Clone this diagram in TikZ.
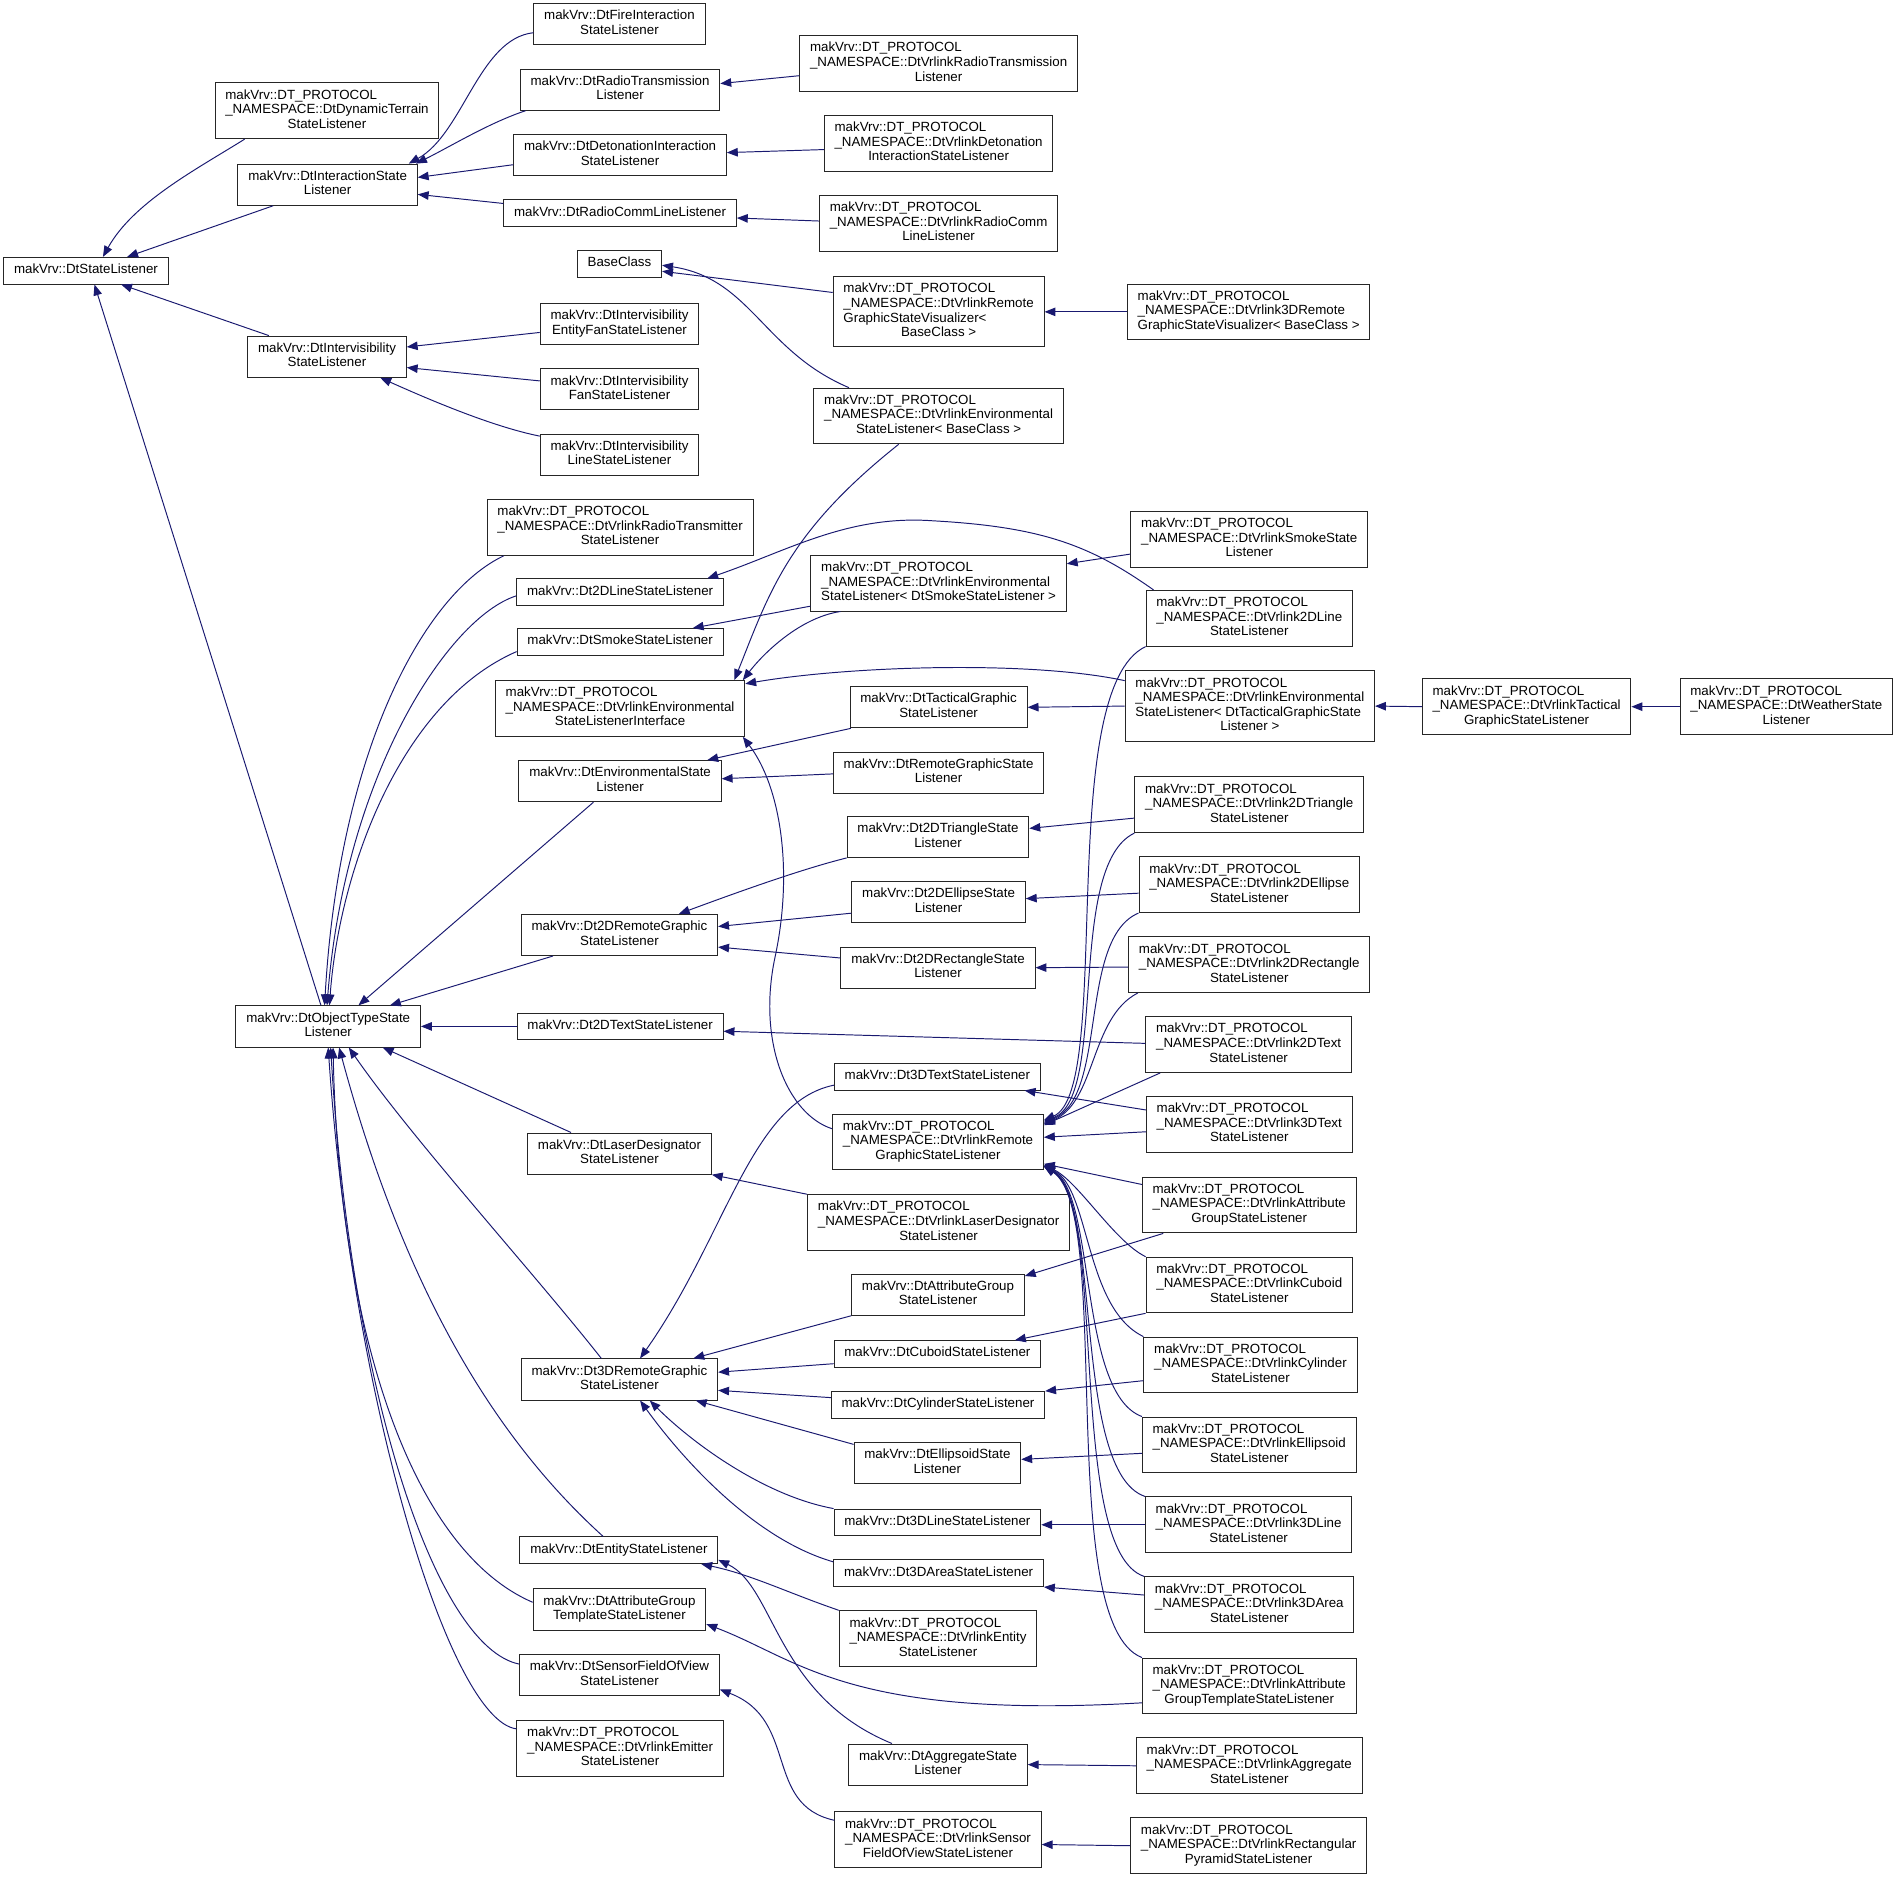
\documentclass[tikz,border=0pt]{standalone}
\usepackage{fontspec}
\setmainfont{Liberation Sans}
\usetikzlibrary{arrows.meta}
\definecolor{edgeblue}{RGB}{25,25,112}
\newcommand{\lbl}[2]{\begin{tabular}{@{}l@{}}#1\\\multicolumn{1}{@{}c@{}}{#2}\end{tabular}}
\newcommand{\lbo}[1]{\begin{tabular}{@{}c@{}}#1\end{tabular}}
\newcommand{\proto}[2]{\lbl{makVrv::DT\_PROTOCOL\\\_NAMESPACE::#1}{#2}}
\begin{document}
\begin{tikzpicture}[x=1pt,y=-1pt,
        cls/.style={draw=black!85,line width=.8pt,fill=white,inner xsep=8.5pt,inner ysep=5pt,
            font=\fontsize{11}{12}\selectfont},
        inh/.style={draw=edgeblue,line width=.8pt,{Triangle[length=9pt,width=7pt]}-}]
    \fill[white] (0,0) rectangle (1568,1552);
    \useasboundingbox (0,0) rectangle (1568,1552);
    % first columns
    \node[cls] (stl) at (71,223.5) {\lbo{makVrv::DtStateListener}};
    \node[cls] (dynt) at (270,91.5) {\proto{DtDynamicTerrain}{StateListener}};
    \node[cls] (intst) at (270.5,152.5) {\lbl{makVrv::DtInteractionState}{Listener}};
    \node[cls] (intvis) at (270,294.5) {\lbl{makVrv::DtIntervisibility}{StateListener}};
    \node[cls] (objt) at (271,847.5) {\lbl{makVrv::DtObjectTypeState}{Listener}};
    % second column
    \node[cls] (fire) at (511.5,20) {\lbl{makVrv::DtFireInteraction}{StateListener}};
    \node[cls] (radtx) at (512,74) {\lbl{makVrv::DtRadioTransmission}{Listener}};
    \node[cls] (deton) at (512,128) {\lbl{makVrv::DtDetonationInteraction}{StateListener}};
    \node[cls] (radcl) at (512,176) {\lbo{makVrv::DtRadioCommLineListener}};
    \node[cls] (base) at (511.5,218) {\lbo{BaseClass}};
    \node[cls] (ivefan) at (511.5,267.5) {\lbl{makVrv::DtIntervisibility}{EntityFanStateListener}};
    \node[cls] (ivfan) at (511.5,321.5) {\lbl{makVrv::DtIntervisibility}{FanStateListener}};
    \node[cls] (ivline) at (511.5,375.5) {\lbl{makVrv::DtIntervisibility}{LineStateListener}};
    \node[cls] (vradtm) at (512,435.5) {\proto{DtVrlinkRadioTransmitter}{StateListener}};
    \node[cls] (line2d) at (512,489) {\lbo{makVrv::Dt2DLineStateListener}};
    \node[cls] (smoke) at (512,530) {\lbo{makVrv::DtSmokeStateListener}};
    \node[cls] (venvif) at (512,585) {\proto{DtVrlinkEnvironmental}{StateListenerInterface}};
    \node[cls] (envst) at (512,645) {\lbl{makVrv::DtEnvironmentalState}{Listener}};
    \node[cls] (rem2d) at (511.5,772) {\lbl{makVrv::Dt2DRemoteGraphic}{StateListener}};
    \node[cls] (text2d) at (512,847.5) {\lbo{makVrv::Dt2DTextStateListener}};
    \node[cls] (laser) at (511.5,952.5) {\lbl{makVrv::DtLaserDesignator}{StateListener}};
    \node[cls] (rem3d) at (511.5,1139) {\lbl{makVrv::Dt3DRemoteGraphic}{StateListener}};
    \node[cls] (entity) at (511,1280) {\lbo{makVrv::DtEntityStateListener}};
    \node[cls] (attrgt) at (511.5,1329) {\lbl{makVrv::DtAttributeGroup}{TemplateStateListener}};
    \node[cls] (sensor) at (511.5,1383) {\lbl{makVrv::DtSensorFieldOfView}{StateListener}};
    \node[cls] (vemit) at (512,1443.5) {\proto{DtVrlinkEmitter}{StateListener}};
    % third column
    \node[cls] (vradtx) at (775,52.5) {\proto{DtVrlinkRadioTransmission}{Listener}};
    \node[cls] (vdeton) at (775,118.5) {\proto{DtVrlinkDetonation}{InteractionStateListener}};
    \node[cls] (vradcl) at (775,184.5) {\proto{DtVrlinkRadioComm}{LineListener}};
    \node[cls] (vgsvis) at (775,257.5) {\proto{DtVrlinkRemote\\GraphicStateVisualizer<}{BaseClass >}};
    \node[cls] (venvbase) at (775,343.5) {\proto{DtVrlinkEnvironmental}{StateListener< BaseClass >}};
    \node[cls] (venvsmoke) at (775,481.5) {\proto{DtVrlinkEnvironmental}{StateListener< DtSmokeStateListener >}};
    \node[cls] (tactg) at (775,584) {\lbl{makVrv::DtTacticalGraphic}{StateListener}};
    \node[cls] (remgs) at (775,638) {\lbl{makVrv::DtRemoteGraphicState}{Listener}};
    \node[cls] (tri2d) at (774.5,691) {\lbl{makVrv::Dt2DTriangleState}{Listener}};
    \node[cls] (ell2d) at (775,745) {\lbl{makVrv::Dt2DEllipseState}{Listener}};
    \node[cls] (rect2d) at (774.5,799) {\lbl{makVrv::Dt2DRectangleState}{Listener}};
    \node[cls] (text3d) at (774,889) {\lbo{makVrv::Dt3DTextStateListener}};
    \node[cls] (vremgs) at (774.5,943) {\proto{DtVrlinkRemote}{GraphicStateListener}};
    \node[cls] (vlaser) at (775,1009.5) {\proto{DtVrlinkLaserDesignator}{StateListener}};
    \node[cls] (attrg) at (774.5,1069) {\lbl{makVrv::DtAttributeGroup}{StateListener}};
    \node[cls] (cuboid) at (774,1118) {\lbo{makVrv::DtCuboidStateListener}};
    \node[cls] (cyl) at (774.5,1160) {\lbo{makVrv::DtCylinderStateListener}};
    \node[cls] (ellips) at (774,1208) {\lbl{makVrv::DtEllipsoidState}{Listener}};
    \node[cls] (line3d) at (774,1257) {\lbo{makVrv::Dt3DLineStateListener}};
    \node[cls] (area3d) at (775,1299) {\lbo{makVrv::Dt3DAreaStateListener}};
    \node[cls] (ventity) at (774.5,1353) {\proto{DtVrlinkEntity}{StateListener}};
    \node[cls] (aggr) at (774.5,1457) {\lbl{makVrv::DtAggregateState}{Listener}};
    \node[cls] (vsensor) at (774.5,1519) {\proto{DtVrlinkSensor}{FieldOfViewStateListener}};
    % fourth column and beyond
    \node[cls] (v3dgsvis) at (1031,257.5) {\proto{DtVrlink3DRemote}{GraphicStateVisualizer< BaseClass >}};
    \node[cls] (vsmoke) at (1031.5,445.5) {\proto{DtVrlinkSmokeState}{Listener}};
    \node[cls] (v2dline) at (1031.5,510.5) {\proto{DtVrlink2DLine}{StateListener}};
    \node[cls] (venvtact) at (1032,583) {\proto{DtVrlinkEnvironmental\\StateListener< DtTacticalGraphicState}{Listener >}};
    \node[cls] (vtactg) at (1260.5,583.5) {\proto{DtVrlinkTactical}{GraphicStateListener}};
    \node[cls] (vweather) at (1475,583.5) {\proto{DtWeatherState}{Listener}};
    \node[cls] (vtri2d) at (1031.5,664.5) {\proto{DtVrlink2DTriangle}{StateListener}};
    \node[cls] (vell2d) at (1031.5,730.5) {\proto{DtVrlink2DEllipse}{StateListener}};
    \node[cls] (vrect2d) at (1031.5,796.5) {\proto{DtVrlink2DRectangle}{StateListener}};
    \node[cls] (vtext2d) at (1031,862.5) {\proto{DtVrlink2DText}{StateListener}};
    \node[cls] (vtext3d) at (1031.5,928.5) {\proto{DtVrlink3DText}{StateListener}};
    \node[cls] (vattrg) at (1031.5,995) {\proto{DtVrlinkAttribute}{GroupStateListener}};
    \node[cls] (vcuboid) at (1031.5,1061) {\proto{DtVrlinkCuboid}{StateListener}};
    \node[cls] (vcyl) at (1032.5,1127) {\proto{DtVrlinkCylinder}{StateListener}};
    \node[cls] (vellips) at (1031.5,1193) {\proto{DtVrlinkEllipsoid}{StateListener}};
    \node[cls] (vline3d) at (1031,1259) {\proto{DtVrlink3DLine}{StateListener}};
    \node[cls] (varea3d) at (1031.5,1325) {\proto{DtVrlink3DArea}{StateListener}};
    \node[cls] (vattrgt) at (1031.5,1392) {\proto{DtVrlinkAttribute}{GroupTemplateStateListener}};
    \node[cls] (vaggr) at (1031.5,1458) {\proto{DtVrlinkAggregate}{StateListener}};
    \node[cls] (vrectpyr) at (1031,1524) {\proto{DtVrlinkRectangular}{PyramidStateListener}};
    % top part
    \draw[inh] ([xshift=14pt]stl.north) .. controls +(25,-45) and +(-40,25) .. ([xshift=-68pt]dynt.south);
    \draw[inh] ([xshift=34pt]stl.north) -- ([xshift=-45pt]intst.south);
    \draw[inh] ([xshift=29pt]stl.south) -- ([xshift=-48pt]intvis.north);
    \draw[inh] ([xshift=7pt]stl.south) -- ([xshift=-6pt]objt.north);
    \draw[inh] ([xshift=67pt]intst.north) .. controls +(45,-25) and +(-45,5) .. ([yshift=-7pt]fire.west);
    \draw[inh] ([xshift=73pt]intst.north) .. controls +(30,-15) and +(-30,10) .. ([xshift=-78pt]radtx.south);
    \draw[inh] ([yshift=6pt]intst.east) -- ([yshift=-8pt]deton.west);
    \draw[inh] ([yshift=-8pt]intst.east) -- ([yshift=8pt]radcl.west);
    \draw[inh] ([yshift=5pt]radtx.east) -- ([yshift=-10pt]vradtx.west);
    \draw[inh] ([yshift=2pt]deton.east) -- ([yshift=-5pt]vdeton.west);
    \draw[inh] ([yshift=-4pt]radcl.east) -- ([yshift=2pt]vradcl.west);
    \draw[inh] ([yshift=-6pt]base.east) -- ([yshift=16pt]vgsvis.west);
    \draw[inh] ([yshift=-1pt]base.east) .. controls (620,230) and (630,290) .. ([xshift=-74pt]venvbase.north);
    \draw[inh] (vgsvis.east) -- (v3dgsvis.west);
    \draw[inh] ([yshift=8pt]intvis.east) -- ([yshift=-7pt]ivefan.west);
    \draw[inh] ([yshift=-9pt]intvis.east) -- ([yshift=7pt]ivfan.west);
    \draw[inh] ([xshift=44pt]intvis.south) .. controls (350,328) and (405,352) .. ([yshift=-2pt]ivline.north west);
    % environmental listeners
    \draw[inh] ([xshift=-9pt]venvif.north east) .. controls (635,490) and (650,440) .. ([xshift=-33pt]venvbase.south);
    \draw[inh] ([xshift=-2pt]venvif.north east) .. controls (630,540) and (660,510) .. ([xshift=-81pt]venvsmoke.south);
    \draw[inh] ([yshift=-3pt]venvif.north east) .. controls (700,550) and (850,545) .. ([yshift=21pt]venvtact.west);
    \draw[inh] ([xshift=-2pt]venvif.south east) .. controls (645,650) and (655,720) .. (640,790)
        .. controls (625,860) and (650,920) .. ([yshift=11pt]vremgs.west);
    \draw[inh] ([yshift=16pt]venvsmoke.east) -- ([yshift=-12pt]vsmoke.west);
    \draw[inh] ([xshift=60pt]smoke.north) -- ([yshift=-19pt]venvsmoke.west);
    \draw[inh] ([xshift=72pt]line2d.north) .. controls (650,455) and (700,425) .. (770,430)
        .. controls (860,435) and (900,450) .. ([xshift=-79pt]v2dline.north);
    \draw[inh] ([xshift=72pt]envst.north) -- ([xshift=1pt]tactg.south west);
    \draw[inh] ([yshift=2pt]envst.east) -- ([yshift=-1pt]remgs.west);
    \draw[inh] (tactg.east) -- (venvtact.west);
    \draw[inh] (venvtact.east) -- (vtactg.west);
    \draw[inh] (vtactg.east) -- (vweather.west);
    % object type listener
    \draw[inh] ([xshift=-3pt]objt.north) .. controls (280,620) and (350,490) .. ([xshift=-96pt]vradtm.south);
    \draw[inh] ([xshift=-1pt]objt.north) .. controls (285,640) and (370,510) .. ([yshift=-3pt]line2d.west);
    \draw[inh] ([xshift=1pt]objt.north) .. controls (280,720) and (330,580) .. ([yshift=-8pt]smoke.west);
    \draw[inh] ([xshift=25pt]objt.north) -- ([xshift=-22pt]envst.south);
    \draw[inh] ([xshift=51pt]objt.north) -- ([xshift=-55pt]rem2d.south);
    \draw[inh] (objt.east) -- (text2d.west);
    \draw[inh] ([xshift=45pt]objt.south) -- ([xshift=-40pt]laser.north);
    \draw[inh] ([xshift=17pt]objt.south) .. controls (340,940) and (440,1050) .. ([xshift=-15pt]rem3d.north);
    \draw[inh] ([xshift=9pt]objt.south) .. controls (330,1050) and (400,1180) .. ([xshift=-13pt]entity.north);
    \draw[inh] ([xshift=4pt]objt.south) .. controls (280,1100) and (340,1280) .. ([yshift=6pt]attrgt.west);
    \draw[inh] ([xshift=2pt]objt.south) .. controls (290,1150) and (360,1360) .. ([yshift=9pt]sensor.west);
    \draw[inh] (objt.south) .. controls (290,1150) and (370,1420) .. ([yshift=16pt]vemit.west);
    % 2D graphics
    \draw[inh] ([xshift=49pt]rem2d.north) .. controls (600,740) and (660,718) .. (tri2d.south west);
    \draw[inh] ([yshift=7pt]rem2d.east) -- ([yshift=-9pt]ell2d.west);
    \draw[inh] ([yshift=-10pt]rem2d.east) -- ([yshift=8pt]rect2d.west);
    \draw[inh] ([yshift=7pt]tri2d.east) -- ([yshift=-11pt]vtri2d.west);
    \draw[inh] ([yshift=3pt]ell2d.east) -- ([yshift=-7pt]vell2d.west);
    \draw[inh] (rect2d.east) -- ([yshift=-2pt]vrect2d.west);
    \draw[inh] ([yshift=-4pt]text2d.east) -- ([yshift=1pt]vtext2d.west);
    % remote graphic listener
    \draw[inh] ([xshift=17pt]rem3d.north) .. controls (600,1020) and (620,910) .. ([yshift=-7pt]text3d.west);
    \draw[inh] ([xshift=72pt]text3d.south) -- ([yshift=12pt]vtext3d.west);
    \draw[inh] ([yshift=4pt]vremgs.east) -- ([yshift=-6pt]vtext3d.west);
    \draw[inh] ([yshift=18pt]vremgs.east) .. controls (920,900) and (870,570) .. (v2dline.south west);
    \draw[inh] ([yshift=17pt]vremgs.east) .. controls (915,905) and (880,715) .. (vtri2d.south west);
    \draw[inh] ([yshift=16pt]vremgs.east) .. controls (915,905) and (890,775) .. (vell2d.south west);
    \draw[inh] ([yshift=15pt]vremgs.east) .. controls (905,910) and (900,840) .. ([xshift=8pt]vrect2d.south west);
    \draw[inh] ([yshift=14pt]vremgs.east) -- ([xshift=-73pt]vtext2d.south);
    \draw[inh] ([yshift=-18pt]vremgs.east) -- ([yshift=17pt]vattrg.west);
    \draw[inh] ([yshift=-19pt]vremgs.east) .. controls (890,975) and (920,1025) .. (vcuboid.north west);
    \draw[inh] ([yshift=-20pt]vremgs.east) .. controls (900,980) and (895,1080) .. (vcyl.north west);
    \draw[inh] ([yshift=-20pt]vremgs.east) .. controls (905,985) and (890,1150) .. (vellips.north west);
    \draw[inh] ([yshift=-20pt]vremgs.east) .. controls (910,990) and (885,1215) .. (vline3d.north west);
    \draw[inh] ([yshift=-20pt]vremgs.east) .. controls (915,995) and (880,1280) .. (varea3d.north west);
    \draw[inh] ([yshift=-20pt]vremgs.east) .. controls (920,1000) and (870,1340) .. (vattrgt.north west);
    % 3D graphics
    \draw[inh] ([yshift=-2pt]attrg.north east) -- ([xshift=-71pt]vattrg.south);
    \draw[inh] ([xshift=64pt]cuboid.north) -- (vcuboid.south west);
    \draw[inh] (cyl.north east) -- ([yshift=-13pt]vcyl.west);
    \draw[inh] ([yshift=3pt]ellips.east) -- ([yshift=-7pt]vellips.west);
    \draw[inh] ([yshift=-2pt]line3d.east) -- (vline3d.west);
    \draw[inh] (area3d.south east) -- ([yshift=8pt]varea3d.west);
    \draw[inh] ([xshift=61pt]rem3d.north) -- (attrg.south west);
    \draw[inh] ([yshift=6pt]rem3d.east) -- ([yshift=-8pt]cuboid.west);
    \draw[inh] ([yshift=-9pt]rem3d.east) -- ([yshift=6pt]cyl.west);
    \draw[inh] ([xshift=63pt]rem3d.south) -- ([yshift=-2pt]ellips.north west);
    \draw[inh] ([xshift=25pt]rem3d.south) .. controls (570,1190) and (630,1235) .. (line3d.north west);
    \draw[inh] ([xshift=17pt]rem3d.south) .. controls (560,1200) and (620,1270) .. ([yshift=-2pt]area3d.north west);
    % the rest
    \draw[inh] (laser.south east) -- (vlaser.north west);
    \draw[inh] ([xshift=68pt]entity.south) .. controls (620,1300) and (650,1315) .. (ventity.north west);
    \draw[inh] ([yshift=-8pt]entity.east) .. controls (640,1310) and (640,1400) .. ([xshift=-38pt]aggr.north);
    \draw[inh] (aggr.east) -- (vaggr.west);
    \draw[inh] ([yshift=-12pt]attrgt.east) .. controls (660,1370) and (700,1420) .. ([yshift=-14pt]vattrgt.west);
    \draw[inh] ([yshift=-12pt]sensor.east) .. controls (660,1420) and (630,1490) .. ([yshift=16pt]vsensor.west);
    \draw[inh] ([yshift=-4pt]vsensor.east) -- (vrectpyr.west);
\end{tikzpicture}
\end{document}
